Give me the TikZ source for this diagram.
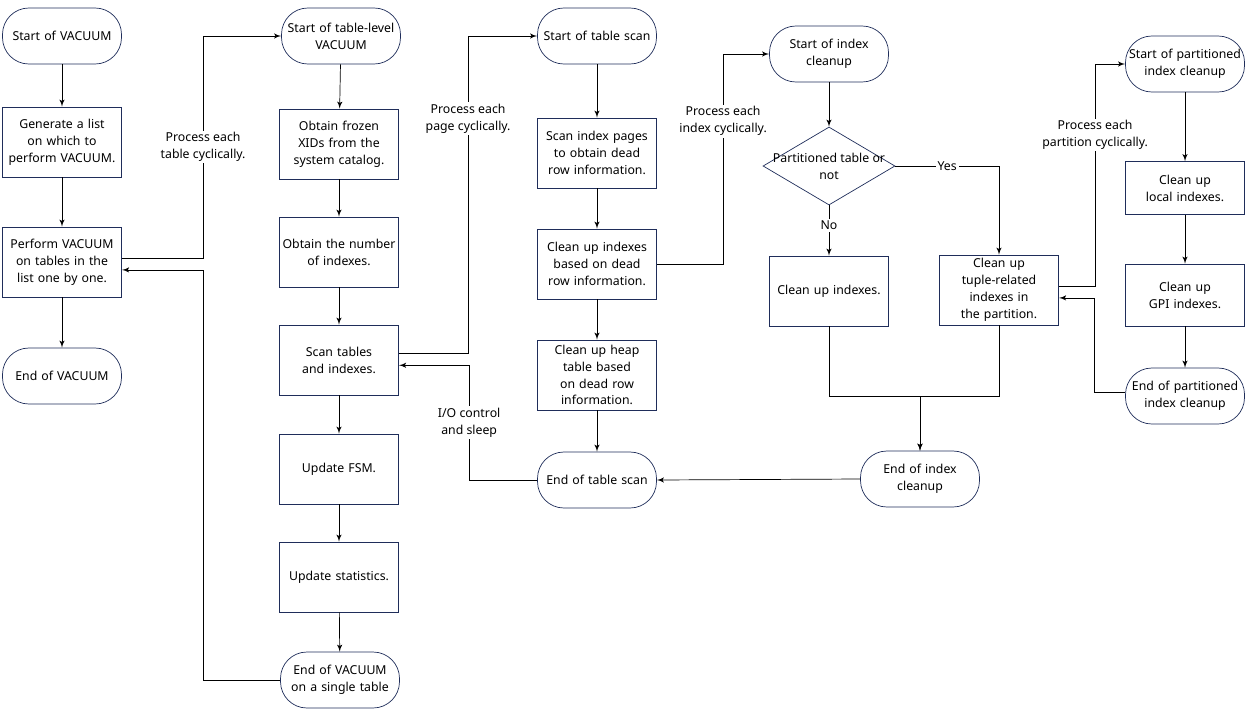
\documentclass[tikz,border=0pt]{standalone}
\usepackage{fontspec}
\setmainfont{Noto Sans}
\usepackage{tikz}
\usetikzlibrary{arrows, positioning, shapes.geometric}
\definecolor{navy}{HTML}{1F2D5A}
\hyphenpenalty=10000
\exhyphenpenalty=10000
\tikzset{
  box/.style   = {draw=navy, rectangle, minimum width=2.38cm, minimum height=1.4cm, text width=2.32cm, align=center, inner sep=1pt},
  term/.style  = {draw=navy, rectangle, rounded corners=15pt, minimum width=2.38cm, minimum height=1.12cm, text width=2.3cm, align=center, inner sep=1pt},
  decide/.style= {draw=navy, diamond, minimum width=2.64cm, minimum height=1.56cm, inner sep=0pt},
  arr/.style   = {draw, -latex', thin},
  lbl/.style   = {fill=white, align=center, inner sep=1pt}
}
\begin{document}
\begin{tikzpicture}[x=0.02cm, y=-0.02cm, font=\fontsize{7}{9.6}\selectfont]
\useasboundingbox (0,0) rectangle (1246,710);

% VACUUM
\node [term                      ] (v1) at (62,36)   {Start of VACUUM};
\node [box                       ] (v2) at (62,142)  {Generate a list on which to perform VACUUM.};
\node [box                       ] (v3) at (62,262)  {Perform VACUUM on tables in the list one by one.};
\node [term                      ] (v4) at (62,376)  {End of VACUUM};

\path [arr] (v1) edge (v2);
\path [arr] (v2) edge (v3);
\path [arr] (v3) edge (v4);

% table-level VACUUM
\node [term                      ] (t1) at (341,36)  {Start of table-level VACUUM};
\node [box                       ] (t2) at (339,144) {Obtain frozen XIDs from the system catalog.};
\node [box                       ] (t3) at (339,252) {Obtain the number of indexes.};
\node [box                       ] (t4) at (339,360) {Scan tables and indexes.};
\node [box                       ] (t5) at (339,469) {Update FSM.};
\node [box                       ] (t6) at (339,577) {Update statistics.};
\node [term                      ] (t7) at (340,680) {End of VACUUM on a single table};

\path [arr] (t1) edge (t2);
\path [arr] (t2) edge (t3);
\path [arr] (t3) edge (t4);
\path [arr] (t4) edge (t5);
\path [arr] (t5) edge (t6);
\path [arr] (t6) edge (t7);

% table scan
\node [term                      ] (s1) at (597,36)  {Start of table scan};
\node [box                       ] (s2) at (597,153) {Scan index pages to obtain dead row information.};
\node [box                       ] (s3) at (597,264) {Clean up indexes based on dead row information.};
\node [box                       ] (s4) at (597,375) {Clean up heap table based on dead row information.};
\node [term                      ] (s5) at (597,480) {End of table scan};

\path [arr] (s1) edge (s2);
\path [arr] (s2) edge (s3);
\path [arr] (s3) edge (s4);
\path [arr] (s4) edge (s5);

% index cleanup
\node [term                      ] (i1) at (829,54)  {Start of index cleanup};
\node [decide, label={[align=center]center:Partitioned table or\\not}] (i2) at (829,166) {};
\node [box                       ] (i3) at (829,291) {Clean up indexes.};
\node [box                       ] (i4) at (999,290) {Clean up tuple-related indexes in the partition.};
\node [term                      ] (i5) at (920,479) {End of index cleanup};

\path [arr] (i1) edge (i2);
\draw [arr] (i2.south) -- node [lbl, pos=0.4] {No} (i3.north);
\draw [arr] (i2.east) -| node [lbl, pos=0.25] {Yes} (i4.north);
\draw [arr] (i3.south) -- ++(0,70) -| (i5.north);
\draw [arr] (i4.south) -- ++(0,71) -| (i5.north);
\draw [arr] (i5.west) -- (s5.east);

% partitioned index cleanup
\node [term                      ] (p1) at (1185,64) {Start of partitioned index cleanup};
\node [box, minimum height=1.06cm] (p2) at (1185,188) {Clean up local indexes.};
\node [box, minimum height=1.24cm] (p3) at (1185,295) {Clean up GPI indexes.};
\node [term                      ] (p4) at (1185,396) {End of partitioned index cleanup};

\path [arr] (p1) edge (p2);
\path [arr] (p2) edge (p3);
\path [arr] (p3) edge (p4);

% loops
\draw [arr] ([yshift=2.3pt]v3.east) -- ++(81,0) |- node [lbl, pos=0.25] {Process each\\table cyclically.} (t1.west);
\draw [arr] (t7.west) -- ++(-77,0) |- ([yshift=-4.5pt]v3.east);
\draw [arr] ([yshift=4pt]t4.east) -- ++(69,0) |- node [lbl, pos=0.37] {Process each\\page cyclically.} (s1.west);
\draw [arr] (s5.west) -- ++(-68,0) |- node [lbl, pos=0.25] {I/O control\\and sleep} ([yshift=-3pt]t4.east);
\draw [arr] (s3.east) -- ++(66,0) |- node [lbl, pos=0.34] {Process each\\index cyclically.} (i1.west);
\draw [arr] ([yshift=2.3pt]i4.east) -- ++(36,0) |- node [lbl, pos=0.34] {Process each\\partition cyclically.} (p1.west);
\draw [arr] ([yshift=2.3pt]p4.west) -- ++(-31,0) |- ([yshift=-4.5pt]i4.east);

\end{tikzpicture}
\end{document}
